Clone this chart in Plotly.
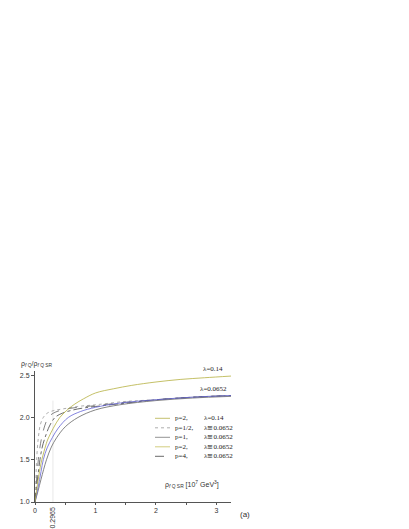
import plotly.graph_objects as go

# curves: x = rho_fQ,SR [10^7 GeV^3], y = rho_fQ / rho_fQ,SR
x_l014 = [0, 0.05, 0.1, 0.15, 0.2, 0.23, 0.3, 0.41, 0.55, 0.66, 0.8, 1.0, 1.3, 1.6, 2.0, 2.4, 2.8, 3.24]
y_l014 = [1, 1.25, 1.46, 1.6, 1.72, 1.77, 1.87, 2.0, 2.1, 2.16, 2.22, 2.29, 2.34, 2.38, 2.42, 2.45, 2.47, 2.49]

x_dot = [0, 0.015, 0.027, 0.055, 0.09, 0.137, 0.2, 0.3, 0.45, 0.7, 1.0, 1.5, 2.0, 2.6, 3.24]
y_dot = [1, 1.28, 1.5, 1.76, 1.92, 2.0, 2.05, 2.08, 2.1, 2.13, 2.15, 2.19, 2.21, 2.24, 2.26]

x_dash = [0, 0.03, 0.055, 0.08, 0.11, 0.16, 0.22, 0.3, 0.45, 0.7, 1.0, 1.5, 2.0, 2.6, 3.24]
y_dash = [1, 1.3, 1.5, 1.64, 1.76, 1.9, 2.0, 2.05, 2.09, 2.12, 2.14, 2.18, 2.21, 2.24, 2.26]

x_dashdot = [0, 0.04, 0.082, 0.12, 0.165, 0.24, 0.33, 0.45, 0.7, 1.0, 1.5, 2.0, 2.6, 3.24]
y_dashdot = [1, 1.26, 1.5, 1.65, 1.76, 1.9, 2.0, 2.05, 2.1, 2.13, 2.17, 2.21, 2.24, 2.26]

x_blue = [0, 0.05, 0.1, 0.137, 0.2, 0.285, 0.385, 0.55, 0.75, 1.0, 1.4, 2.0, 2.6, 3.24]
y_blue = [1, 1.17, 1.36, 1.5, 1.64, 1.76, 1.875, 2.0, 2.07, 2.12, 2.17, 2.21, 2.24, 2.26]

x_p1 = [0, 0.05, 0.1, 0.19, 0.27, 0.357, 0.5, 0.71, 1.0, 1.4, 2.0, 2.6, 3.24]
y_p1 = [1, 1.13, 1.27, 1.5, 1.65, 1.76, 1.89, 2.0, 2.09, 2.15, 2.2, 2.23, 2.25]

x_mark = 0.2965

legend_p = ["p=2,", "p=1/2,", "p=1,", "p=2,", "p=4,"]
legend_lam = ["λ=0.14", "λ≅0.0652", "λ≅0.0652", "λ≅0.0652", "λ≅0.0652"]
legend_col = ["#b5b04a", "#999999", "#777777", "#c8c060", "#444444"]
legend_dash = ["solid", "dot", "solid", "solid", "dash"]

fig = go.Figure()

curves = [
    (x_dot, y_dot, "#999999", "dot"),
    (x_dash, y_dash, "#666666", "dash"),
    (x_dashdot, y_dashdot, "#444444", "dashdot"),
    (x_p1, y_p1, "#666666", "solid"),
    (x_blue, y_blue, "#6565d5", "solid"),
    (x_l014, y_l014, "#b5b040", "solid"),
]
for xs, ys, c, d in curves:
    fig.add_trace(go.Scatter(x=xs, y=ys, mode="lines", line_shape="spline",
                             line=dict(color=c, width=0.8, dash=d), showlegend=False))

# faint marker line at 0.2965
fig.add_shape(type="line", x0=x_mark, x1=x_mark, y0=1, y1=2.2,
              line=dict(color="#e8e8e8", width=1), layer="below")

tfont = dict(family="Liberation Sans, Arial", size=7, color="#333333")
sfont = dict(family="Liberation Serif, Times New Roman", size=7, color="#222222")

fig.update_layout(
    width=409, height=529,
    margin=dict(l=27, r=186, t=363, b=35),
    paper_bgcolor="white", plot_bgcolor="white",
    font=tfont,
    xaxis=dict(range=[0, 3.24], tickvals=[0, 1, 2, 3], ticks="outside", ticklen=2,
               showgrid=False, zeroline=False, showline=True, linecolor="#555", linewidth=1,
               minor=dict(dtick=0.5, ticks="outside", ticklen=2, tickcolor="#555"),
               tickfont=tfont, tickcolor="#555"),
    yaxis=dict(range=[1, 2.55], tickvals=[1, 1.5, 2, 2.5],
               ticktext=["1.0", "1.5", "2.0", "2.5"], ticks="outside", ticklen=3,
               showgrid=False, zeroline=False, showline=True, linecolor="#555", linewidth=1,
               tickfont=tfont, tickcolor="#555"),
)

# axis titles and labels
fig.add_annotation(text="ρ<sub><i>f</i> Q</sub>/ρ<sub><i>f</i> Q SR</sub>", xref="paper", yref="paper",
                   x=-0.08, y=1.01, xanchor="left", yanchor="bottom", showarrow=False,
                   font=dict(family="Liberation Sans, Arial", size=7, color="#333333"))
fig.add_annotation(text="ρ<sub><i>f</i> Q SR</sub> [10<sup>7</sup> GeV<sup>3</sup>]", x=2.12, y=1.13,
                   xanchor="left", yanchor="bottom", showarrow=False,
                   font=dict(family="Liberation Sans, Arial", size=7, color="#333333"))
fig.add_annotation(text="(a)", xref="paper", yref="paper", x=1.035, y=-0.045,
                   xanchor="left", yanchor="top", showarrow=False,
                   font=dict(family="Liberation Sans, Arial", size=8, color="#333333"))
fig.add_annotation(text="0.2965", x=x_mark, yref="paper", y=-0.02, textangle=-90,
                   xanchor="center", yanchor="top", showarrow=False, font=tfont)
fig.add_annotation(text="λ=0.14", x=2.95, y=2.5, xanchor="center", yanchor="bottom",
                   showarrow=False, font=sfont)
fig.add_annotation(text="λ=0.0652", x=2.95, y=2.27, xanchor="center", yanchor="bottom",
                   showarrow=False, font=sfont)

# legend drawn by hand (rows ~9.5 px apart)
for i in range(len(legend_p)):
    yp = (494 - (410.3 + 9.5 * i)) / 131
    fig.add_shape(type="line", xref="paper", yref="paper", x0=(147 - 27) / 196, x1=(162 - 27) / 196,
                  y0=yp, y1=yp, line=dict(color=legend_col[i], width=0.8, dash=legend_dash[i]))
    fig.add_annotation(text=legend_p[i], xref="paper", yref="paper", x=(165 - 27) / 196, y=yp,
                       xanchor="left", yanchor="middle", showarrow=False, font=sfont)
    fig.add_annotation(text=legend_lam[i], xref="paper", yref="paper", x=(194 - 27) / 196, y=yp,
                       xanchor="left", yanchor="middle", showarrow=False, font=sfont)

fig.write_html("out.html")
